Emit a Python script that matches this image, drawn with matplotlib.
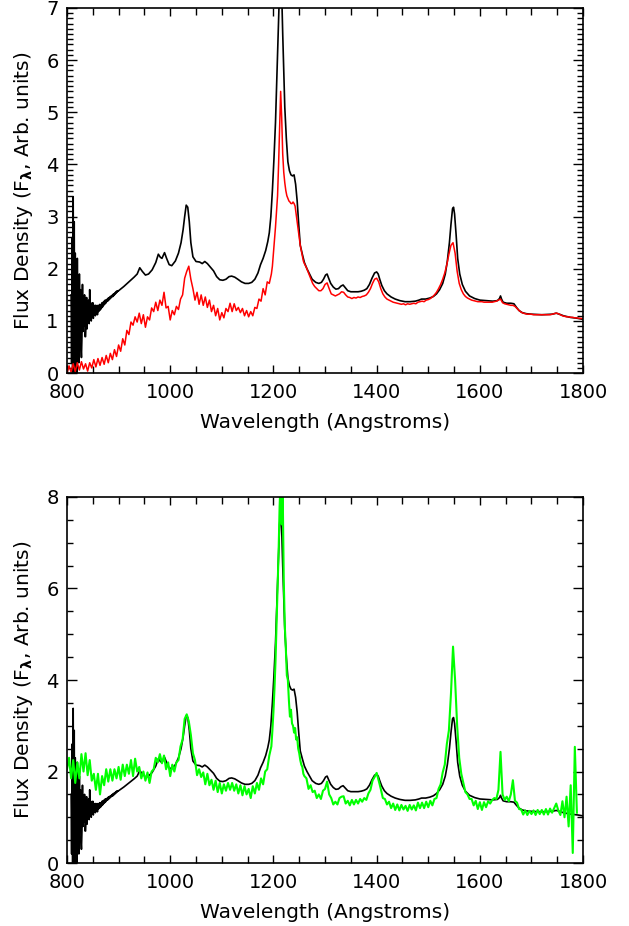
import numpy as np
import matplotlib
matplotlib.use("Agg")
import matplotlib.pyplot as plt
from matplotlib.ticker import MultipleLocator

# ---- composite spectrum (black), same in both panels ----
# noisy blue end, 808..899 A at 1 A steps
black_blue_flux = [
    1.50, 0.20, 2.60, 0.00, 3.38, 0.30, 2.90, 0.00, 2.30, 0.40,
    2.00, 0.00, 2.20, 0.60, 1.80, 0.20, 1.90, 0.90, 1.60, 0.50,
    0.30, 0.70, 1.70, 0.80, 1.40, 0.90, 1.50, 0.70, 0.70, 1.00,
    1.45, 0.85, 1.30, 1.05, 1.40, 0.95, 1.60, 1.10, 1.35, 1.00,
    1.30, 1.10, 1.35, 1.05, 1.25, 1.15, 1.30, 1.10, 1.30, 1.15,
    1.28, 1.12, 1.30, 1.18, 1.30, 1.20, 1.32, 1.22, 1.30, 1.25,
    1.35, 1.27, 1.36, 1.30, 1.38, 1.32, 1.40, 1.34, 1.40, 1.37,
    1.42, 1.38, 1.44, 1.40, 1.45, 1.42, 1.47, 1.44, 1.48, 1.46,
    1.50, 1.47, 1.52, 1.49, 1.53, 1.51, 1.55, 1.53, 1.57, 1.55,
    1.58, 1.57,
]
black_wave = [
    900, 910, 920, 930, 936, 941, 946, 952, 958, 965, 972, 977, 981, 984,
    989, 993, 998, 1003, 1010, 1016, 1021, 1025, 1028, 1031, 1034, 1037,
    1040, 1044, 1050, 1057, 1062, 1067, 1072, 1078, 1084, 1090, 1096, 1102,
    1108, 1114, 1119, 1125, 1131, 1138, 1145, 1152, 1158, 1164, 1170, 1175,
    1180, 1185, 1189, 1192, 1195, 1198, 1201, 1204, 1207, 1210, 1212, 1214,
    1216, 1218, 1220, 1222, 1225, 1228, 1231, 1234, 1237, 1240, 1243, 1246,
    1249, 1252, 1256, 1260, 1265, 1270, 1275, 1282, 1288, 1293, 1297, 1301,
    1304, 1307, 1311, 1316, 1321, 1326, 1331, 1335, 1339, 1344, 1350, 1357,
    1364, 1370, 1376, 1381, 1386, 1391, 1396, 1400, 1403, 1406, 1410, 1415,
    1420, 1428, 1436, 1445, 1455, 1465, 1475, 1482, 1487, 1495, 1503, 1510,
    1516, 1522, 1528, 1533, 1537, 1541, 1544, 1547, 1549, 1551, 1554, 1557,
    1561, 1566, 1572, 1580, 1590, 1600, 1612, 1625, 1634, 1638, 1640, 1642,
    1645, 1652, 1660, 1666, 1671, 1676, 1682, 1690, 1700, 1720, 1740, 1748,
    1754, 1762, 1775, 1790, 1800,
]
black_flux = [
    1.58, 1.66, 1.75, 1.84, 1.90, 2.02, 1.95, 1.88, 1.90, 1.98, 2.12, 2.28, 2.22, 2.20,
    2.31, 2.20, 2.08, 2.06, 2.15, 2.30, 2.50, 2.75, 3.00, 3.22, 3.18, 2.90,
    2.50, 2.23, 2.14, 2.13, 2.10, 2.14, 2.10, 2.03, 1.96, 1.85, 1.79, 1.78,
    1.80, 1.85, 1.86, 1.84, 1.80, 1.75, 1.72, 1.72, 1.74, 1.80, 1.92, 2.08,
    2.20, 2.35, 2.52, 2.69, 3.00, 3.50, 4.10, 4.80, 5.80, 6.80, 7.40, 7.70,
    7.30, 6.50, 5.80, 5.10, 4.50, 4.05, 3.88, 3.80, 3.78, 3.80, 3.62, 3.30,
    2.85, 2.45, 2.28, 2.12, 2.00, 1.90, 1.80, 1.74, 1.72, 1.74, 1.80, 1.88,
    1.90, 1.82, 1.72, 1.65, 1.61, 1.62, 1.67, 1.69, 1.64, 1.58, 1.56, 1.56,
    1.56, 1.57, 1.59, 1.62, 1.70, 1.82, 1.92, 1.94, 1.90, 1.80, 1.68, 1.58,
    1.52, 1.46, 1.42, 1.39, 1.37, 1.37, 1.38, 1.40, 1.42, 1.42, 1.44, 1.47,
    1.52, 1.60, 1.72, 1.90, 2.15, 2.50, 2.85, 3.15, 3.18, 3.05, 2.65, 2.20,
    1.90, 1.70, 1.57, 1.48, 1.43, 1.40, 1.39, 1.38, 1.39, 1.43, 1.48, 1.42,
    1.36, 1.34, 1.34, 1.33, 1.26, 1.20, 1.16, 1.14, 1.13, 1.12, 1.13, 1.15,
    1.13, 1.10, 1.07, 1.05, 1.03,
]

# ---- red spectrum (top panel) ----
red_flux_blue = [  # 800..1196, 4 A steps
    0.00, 0.14, 0.02, 0.18, 0.03, 0.20, 0.06, 0.22, 0.08, 0.18,
    0.04, 0.20, 0.10, 0.26, 0.12, 0.28, 0.15, 0.30, 0.17, 0.34,
    0.20, 0.38, 0.26, 0.45, 0.32, 0.54, 0.42, 0.66, 0.54, 0.82,
    0.74, 0.98, 0.92, 1.08, 0.98, 1.15, 0.95, 1.12, 0.88, 1.08,
    1.02, 1.25, 1.18, 1.36, 1.20, 1.40, 1.30, 1.55, 1.25, 1.28,
    1.02, 1.20, 1.12, 1.28, 1.22, 1.42, 1.50, 1.82, 1.95, 2.05,
    1.80, 1.62, 1.40, 1.55, 1.32, 1.50, 1.30, 1.46, 1.26, 1.40,
    1.18, 1.30, 1.10, 1.24, 1.02, 1.16, 1.06, 1.24, 1.18, 1.34,
    1.18, 1.33, 1.20, 1.26, 1.16, 1.24, 1.10, 1.20, 1.08, 1.18,
    1.10, 1.26, 1.24, 1.42, 1.38, 1.62, 1.50, 1.75, 1.72, 1.90,
]
red_flux_lya = [  # 1198..1260, 2 A steps
    2.05, 2.30, 2.55, 2.80, 3.10, 3.40, 4.00, 4.70, 5.40, 4.90,
    4.20, 3.85, 3.65, 3.50, 3.40, 3.35, 3.30, 3.28, 3.25, 3.25,
    3.28, 3.25, 3.20, 3.05, 2.90, 2.75, 2.60, 2.45, 2.35, 2.25,
    2.15, 2.10,
]
red_flux_red = [  # 1264..1800, 4 A steps
    2.02, 1.92, 1.82, 1.72, 1.66, 1.62, 1.58, 1.58, 1.62, 1.70,
    1.73, 1.62, 1.52, 1.50, 1.48, 1.50, 1.52, 1.56, 1.55, 1.50,
    1.46, 1.45, 1.43, 1.45, 1.44, 1.46, 1.45, 1.47, 1.48, 1.50,
    1.55, 1.62, 1.72, 1.80, 1.82, 1.75, 1.62, 1.52, 1.46, 1.42,
    1.40, 1.38, 1.36, 1.35, 1.34, 1.33, 1.32, 1.33, 1.31, 1.33,
    1.32, 1.33, 1.34, 1.33, 1.36, 1.37, 1.38, 1.37, 1.40, 1.41,
    1.43, 1.46, 1.50, 1.55, 1.62, 1.70, 1.80, 1.92, 2.08, 2.28,
    2.45, 2.50, 2.30, 1.95, 1.72, 1.60, 1.52, 1.47, 1.44, 1.42,
    1.40, 1.39, 1.38, 1.37, 1.37, 1.37, 1.36, 1.36, 1.36, 1.36,
    1.36, 1.37, 1.38, 1.40, 1.42, 1.35, 1.33, 1.32, 1.31, 1.30,
    1.30, 1.28, 1.24, 1.20, 1.17, 1.15, 1.14, 1.13, 1.13, 1.13,
    1.12, 1.12, 1.12, 1.12, 1.12, 1.12, 1.12, 1.12, 1.12, 1.13,
    1.14, 1.15, 1.14, 1.12, 1.10, 1.09, 1.08, 1.08, 1.07, 1.07,
    1.06, 1.06, 1.05, 1.05, 1.04,
]

# ---- green spectrum (bottom panel) ----
green_flux_blue = [  # 800..1196, 4 A steps
    2.05, 2.30, 1.85, 2.25, 1.75, 2.20, 1.85, 2.38, 2.00, 2.40,
    1.92, 2.25, 1.80, 1.95, 1.60, 1.95, 1.50, 1.90, 1.70, 2.05,
    1.78, 2.05, 1.80, 2.05, 1.85, 2.10, 1.82, 2.15, 1.90, 2.15,
    1.95, 2.25, 1.90, 2.28, 2.00, 2.10, 1.85, 2.00, 1.80, 1.98,
    1.75, 2.00, 2.05, 2.30, 2.20, 2.38, 2.18, 2.35, 2.05, 2.20,
    1.90, 2.15, 2.00, 2.20, 2.25, 2.55, 2.70, 3.15, 3.25, 3.10,
    2.80, 2.40, 2.25, 1.92, 2.05, 1.88, 1.98, 1.72, 1.95, 1.70,
    1.82, 1.60, 1.80, 1.55, 1.75, 1.52, 1.72, 1.58, 1.75, 1.60,
    1.75, 1.58, 1.72, 1.52, 1.70, 1.48, 1.68, 1.50, 1.62, 1.42,
    1.68, 1.52, 1.75, 1.60, 1.85, 1.72, 2.00, 2.05, 2.35, 2.55,
]
green_flux_lya = [  # 1198..1260, 2 A steps
    2.90, 3.30, 3.80, 4.40, 5.20, 6.00, 6.80, 7.80, 8.40, 7.40,
    8.10, 6.20, 5.20, 4.70, 4.10, 4.00, 3.55, 3.20, 3.35, 3.05,
    3.00, 2.85, 2.95, 2.70, 2.75, 2.50, 2.40, 2.25, 2.15, 2.10,
    1.95, 1.90,
]
green_flux_red = [  # 1264..1788, 4 A steps
    1.85, 1.62, 1.70, 1.55, 1.58, 1.42, 1.50, 1.40, 1.58, 1.62,
    1.78, 1.50, 1.42, 1.28, 1.34, 1.28, 1.42, 1.45, 1.46, 1.30,
    1.36, 1.26, 1.38, 1.28, 1.38, 1.30, 1.40, 1.34, 1.42, 1.38,
    1.52, 1.60, 1.80, 1.88, 1.97, 1.80, 1.62, 1.42, 1.40, 1.28,
    1.34, 1.20, 1.30, 1.16, 1.28, 1.15, 1.27, 1.17, 1.25, 1.14,
    1.27, 1.17, 1.26, 1.15, 1.32, 1.20, 1.32, 1.20, 1.34, 1.22,
    1.36, 1.26, 1.40, 1.42, 1.62, 1.72, 1.98, 2.15, 2.60, 2.90,
    3.70, 4.73, 4.00, 3.00, 2.30, 1.95, 1.75, 1.55, 1.50, 1.40,
    1.40, 1.26, 1.36, 1.18, 1.33, 1.16, 1.33, 1.22, 1.35, 1.30,
    1.38, 1.42, 1.40, 1.60, 2.43, 1.50, 1.38, 1.45, 1.35, 1.50,
    1.81, 1.36, 1.32, 1.18, 1.17, 1.06, 1.15, 1.05, 1.14, 1.07,
    1.15, 1.05, 1.16, 1.07, 1.16, 1.06, 1.18, 1.06, 1.19, 1.10,
    1.20, 1.30, 1.15, 1.05, 1.35, 1.00, 1.45, 0.80, 1.70, 0.22,
    2.54, 1.10,
]

# wavelength grids
wave_black = np.concatenate([np.arange(808, 900), black_wave])
flux_black = np.concatenate([black_blue_flux, black_flux])
wave_red = np.concatenate([np.arange(800, 1198, 4), np.arange(1198, 1262, 2),
                           np.arange(1264, 1801, 4)])
flux_red = np.concatenate([red_flux_blue, red_flux_lya, red_flux_red])
wave_green = np.concatenate([np.arange(800, 1198, 4), np.arange(1198, 1262, 2),
                             np.arange(1264, 1789, 4)])
flux_green = np.concatenate([green_flux_blue, green_flux_lya, green_flux_red])

plt.rcParams['font.family'] = ['DejaVu Sans']
fig = plt.figure(figsize=(6.29, 9.26), dpi=100)
ax1 = fig.add_axes([0.1065, 0.597, 0.8205, 0.3945])
ax2 = fig.add_axes([0.1065, 0.068, 0.8205, 0.3953])

ylabel = r'Flux Density (F$_{\mathbf{\lambda}}$, Arb. units)'


def style(ax, ymax, ymajor, yminor):
    ax.set_xlim(800, 1800)
    ax.set_ylim(0, ymax)
    ax.xaxis.set_major_locator(MultipleLocator(200))
    ax.xaxis.set_minor_locator(MultipleLocator(50))
    ax.yaxis.set_major_locator(MultipleLocator(ymajor))
    ax.yaxis.set_minor_locator(MultipleLocator(yminor))
    ax.tick_params(which='both', direction='in', top=True, right=True,
                   labelsize=14, width=1.0)
    ax.tick_params(axis='x', which='major', length=6, pad=7)
    ax.tick_params(axis='x', which='minor', length=5)
    ax.tick_params(axis='y', which='major', length=7, pad=6)
    ax.tick_params(axis='y', which='minor', length=4)
    for s in ax.spines.values():
        s.set_linewidth(1.2)
    ax.set_xlabel('Wavelength (Angstroms)', fontsize=14.5, labelpad=8)
    ax.set_ylabel(ylabel, fontsize=14.5, labelpad=8)


ax1.plot(wave_black, flux_black, color='black', lw=1.2)
ax1.plot(wave_red, flux_red, color='red', lw=1.1)
style(ax1, 7, 1, 0.1)

ax2.plot(wave_black, flux_black, color='black', lw=1.2)
ax2.plot(wave_green, flux_green, color='#00ff00', lw=1.5)
style(ax2, 8, 2, 0.5)

fig.savefig('out.png', dpi=100)
